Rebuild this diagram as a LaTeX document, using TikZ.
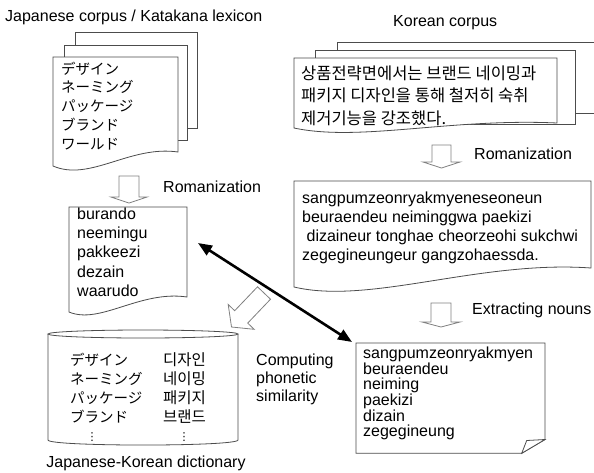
\documentclass[tikz,border=0pt]{standalone}
\usepackage{fontspec}
\setmainfont{Liberation Sans}
\newfontfamily\jpfont{Noto Sans CJK JP}
\newfontfamily\krfont{Noto Sans CJK KR}
\newfontfamily\symfont{DejaVu Sans}
\usetikzlibrary{arrows.meta}
\begin{document}
\begin{tikzpicture}[x=1pt,y=-1pt,
  doc/.style={draw=black!70, fill=white, line width=0.8pt},
  barrow/.style={draw=black!50, fill=white, line width=0.8pt},
  lbl/.style={anchor=base west, inner sep=0pt, font=\fontsize{16}{19}\selectfont},
  jtxt/.style={anchor=base west, inner sep=0pt, font=\jpfont\fontsize{14.5}{18}\selectfont},
  ktxt/.style={anchor=base west, inner sep=0pt, font=\krfont\fontsize{15.5}{18}\selectfont},
  kbig/.style={anchor=base west, inner sep=0pt, font=\krfont\fontsize{16.5}{20}\selectfont},
  dotsnode/.style={inner sep=0pt, font=\symfont\fontsize{11}{11}\selectfont},
  bigarrow/.style={line width=2.6pt, {Triangle[length=14pt,width=11pt]}-{Triangle[length=14pt,width=11pt]}}
]
\useasboundingbox (0,0) rectangle (594,472);
\fill[white] (0,0) rectangle (594,472);

% ---------- Japanese corpus ----------
\node[lbl] (jtitle) at (5,21) {Japanese corpus / Katakana lexicon};
\draw[doc] (75,32) rectangle (197,128);
\draw[doc] (64,45) rectangle (187,140);
\draw[doc] (53,57) -- (178,57) -- (178,152) .. controls (130,145) and (90,182) .. (53,166) -- cycle;
\foreach \t [count=\i] in {デザイン,ネーミング,パッケージ,ブランド,ワールド}
  \node[jtxt] (jc-\i) at (61,{74+18.8*(\i-1)}) {\t};

% arrow: Romanization (Japanese)
\draw[barrow] (119,176) -- (139,176) -- (139,197) -- (147,197) -- (129,203) -- (111,197) -- (119,197) -- cycle;
\node[lbl] (jrom) at (163,192) {Romanization};

% ---------- Japanese romanized ----------
\draw[doc] (69,207) -- (187,207) -- (187,297) .. controls (140,290) and (100,325) .. (69,312) -- cycle;
\foreach \t [count=\i] in {burando,neemingu,pakkeezi,dezain,waarudo}
  \node[lbl] (jr-\i) at (77,{219.3+19.3*(\i-1)}) {\t};

% ---------- dictionary cylinder ----------
\draw[doc] (48,334) -- (48,440) .. controls (48,446.7) and (238,446.7) .. (238,440) -- (238,334);
\draw[doc] (143,334) ellipse [x radius=95, y radius=4];
\foreach \t [count=\i] in {デザイン,ネーミング,パッケージ,ブランド}
  \node[jtxt] (dj-\i) at (70,{365+19*(\i-1)}) {\t};
\foreach \t [count=\i] in {디자인,네이밍,패키지,브랜드}
  \node[ktxt] (dk-\i) at (163,{365+19*(\i-1)}) {\t};
\node[dotsnode] (djdots) at (92,437) {⋮};
\node[dotsnode] (dkdots) at (184,437) {⋮};
\node[lbl, anchor=base] (dict) at (146,467) {Japanese-Korean dictionary};

% ---------- Korean corpus ----------
\node[lbl] (ktitle) at (393,26) {Korean corpus};
\fill[white] (337,42) rectangle (594,113);
\draw[black!70, line width=0.8pt] (594,42) -- (337,42) -- (337,113) -- (594,113);
\draw[doc] (315,50) rectangle (575,124);
\draw[doc] (294,58) -- (557,58) -- (557,123) .. controls (450,118) and (360,142) .. (294,128) -- cycle;
\node[kbig] (kc-1) at (301,79) {상품전략면에서는 브랜드 네이밍과};
\node[kbig] (kc-2) at (301,101.5) {패키지 디자인을 통해 철저히 숙취};
\node[kbig] (kc-3) at (301,124) {제거기능을 강조했다.};

% arrow: Romanization (Korean)
\draw[barrow] (432,145) -- (451,145) -- (451,162) -- (460,162) -- (441.5,168) -- (423,162) -- (432,162) -- cycle;
\node[lbl] (krom) at (474,159) {Romanization};

% ---------- Korean romanized ----------
\draw[doc] (294,181) -- (591,181) -- (591,268) .. controls (480,260) and (370,305) .. (294,287) -- cycle;
\node[lbl] (kr-1) at (302,203.3) {sangpumzeonryakmyeneseoneun};
\node[lbl] (kr-2) at (302,222.5) {beuraendeu neiminggwa paekizi};
\node[lbl] (kr-3) at (302,241.7) {\ dizaineur tonghae cheorzeohi sukchwi};
\node[lbl] (kr-4) at (302,260.9) {zegegineungeur gangzohaessda.};

% arrow: Extracting nouns
\draw[barrow] (431,303) -- (451,303) -- (451,322) -- (460,322) -- (441,327) -- (422,322) -- (431,322) -- cycle;
\node[lbl] (kext) at (472,314) {Extracting nouns};

% ---------- Korean nouns (folded note) ----------
\draw[doc] (356,343) -- (545,343) -- (545,439.5) -- (521.7,453.3) -- (356,453.3) -- cycle;
\draw[doc] (521.7,453.3) -- (526.7,440.5) -- (545,439.5) -- cycle;
\foreach \t [count=\i] in {sangpumzeonryakmyen,beuraendeu,neiming,paekizi,dizain,zegegineung}
  \node[lbl] (kn-\i) at (363,{358.3+15.7*(\i-1)}) {\t};

% label: Computing phonetic similarity
\node[lbl] (comp-1) at (256,365.3) {Computing};
\node[lbl] (comp-2) at (256,383.5) {phonetic};
\node[lbl] (comp-3) at (256,401.7) {similarity};

% diagonal block arrow into dictionary
\draw[barrow] (257.5,286.8) -- (234.7,310.7) -- (228.2,304.5) -- (231.5,327) -- (254.2,329.3) -- (247.7,323.1) -- (270.5,299.2) -- cycle;

% black double arrow
\coordinate (jrom-r) at (198,243);
\coordinate (kn-l) at (352,342);
\draw[bigarrow] (jrom-r) -- (kn-l);
\end{tikzpicture}
\end{document}
